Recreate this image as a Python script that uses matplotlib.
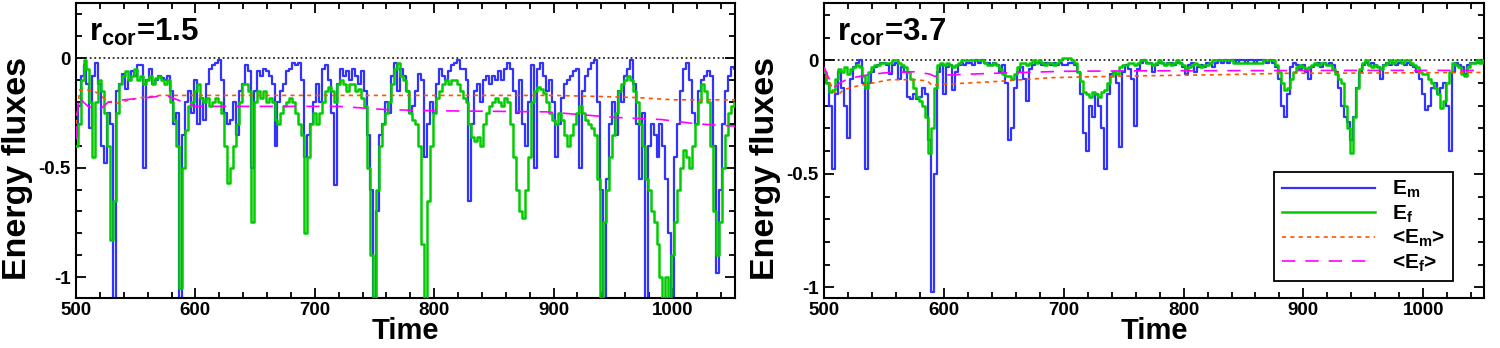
import matplotlib
matplotlib.use("Agg")
import matplotlib.pyplot as plt
from matplotlib.ticker import MultipleLocator, FuncFormatter
import numpy as np

# time grid of the sampled fluxes (step 2.5)
time = np.arange(500, 1052.5 + 0.1, 2.5)

# r_cor = 1.5
em_15 = [
    -0.36, -0.22, -0.08, -0.03, -0.12, -0.32, -0.08, -0.02, -0.12, -0.40,
    -0.48, -0.25, -0.30, -1.15, -0.15, -0.12, -0.07, -0.14, -0.10, -0.06,
    -0.08, -0.03, -0.03, -0.50, -0.10, -0.05, -0.12, -0.10, -0.08, -0.09,
    -0.10, -0.08, -0.15, -0.30, -0.25, -1.15, -0.35, -0.20, -0.15, -0.25,
    -0.10, -0.30, -0.18, -0.28, -0.12, -0.05, -0.03, -0.02, -0.01, -0.10,
    -0.25, -0.30, -0.28, -0.20, -0.35, -0.15, -0.12, -0.03, -0.06, -0.50,
    -0.15, -0.06, -0.08, -0.05, -0.06, -0.08, -0.12, -0.40, -0.20, -0.15,
    -0.12, -0.06, -0.05, -0.02, -0.03, -0.02, -0.10, -0.45, -0.35, -0.30,
    -0.20, -0.12, -0.20, -0.05, -0.03, -0.10, -0.25, -0.58, -0.12, -0.05,
    -0.08, -0.06, -0.10, -0.05, -0.08, -0.12, -0.06, -0.15, -0.35, -0.60,
    -1.15, -0.70, -0.35, -0.30, -0.20, -0.25, -0.08, -0.02, -0.15, -0.05,
    -0.08, -0.15, -0.25, -0.22, -0.15, -0.07, -0.10, -0.45, -0.30, -0.20,
    -0.25, -0.12, -0.05, -0.08, -0.10, -0.06, -0.03, -0.02, -0.01, -0.05,
    -0.05, -0.10, -0.65, -0.30, -0.15, -0.12, -0.20, -0.10, -0.08, -0.12,
    -0.08, -0.10, -0.06, -0.10, -0.05, -0.02, -0.05, -0.15, -0.25, -0.10,
    -0.30, -0.40, -0.20, -0.03, -0.50, -0.05, -0.02, -0.08, -0.15, -0.10,
    -0.20, -0.45, -0.30, -0.18, -0.12, -0.10, -0.08, -0.06, -0.05, -0.50,
    -0.15, -0.08, -0.05, -0.02, -0.01, -0.20, -0.60, -1.15, -0.55, -0.30,
    -0.20, -0.35, -0.15, -0.20, -0.08, -0.05, -0.01, -0.12, -0.30, -0.55,
    -0.25, -1.15, -0.40, -0.30, -0.35, -0.45, -0.30, -0.40, -0.55, -0.80,
    -1.10, -0.45, -0.30, -0.15, -0.05, -0.02, -0.10, -0.25, -0.30, -0.15,
    -0.10, -0.08, -0.06, -0.08, -0.40, -0.98, -0.60, -0.30, -0.15, -0.08,
    -0.04, -0.05,
]
ef_15 = [
    -0.40, -0.30, -0.10, -0.01, -0.05, -0.20, -0.45, -0.20, -0.10, -0.15,
    -0.25, -0.40, -0.83, -0.65, -0.25, -0.12, -0.08, -0.06, -0.10, -0.08,
    -0.05, -0.10, -0.08, -0.12, -0.10, -0.08, -0.12, -0.09, -0.08, -0.10,
    -0.12, -0.10, -0.20, -0.28, -0.40, -1.05, -0.50, -0.33, -0.22, -0.20,
    -0.15, -0.12, -0.18, -0.20, -0.18, -0.22, -0.20, -0.18, -0.20, -0.25,
    -0.40, -0.57, -0.50, -0.40, -0.30, -0.20, -0.12, -0.12, -0.15, -0.75,
    -0.20, -0.15, -0.18, -0.15, -0.20, -0.18, -0.20, -0.28, -0.30, -0.25,
    -0.22, -0.20, -0.18, -0.20, -0.25, -0.30, -0.35, -0.80, -0.45, -0.30,
    -0.25, -0.30, -0.25, -0.20, -0.15, -0.13, -0.15, -0.20, -0.12, -0.10,
    -0.12, -0.15, -0.12, -0.12, -0.15, -0.14, -0.18, -0.22, -0.50, -0.90,
    -1.10, -0.60, -0.40, -0.30, -0.25, -0.20, -0.12, -0.05, -0.02, -0.08,
    -0.10, -0.15, -0.25, -0.28, -0.30, -0.40, -0.85, -1.10, -0.65, -0.40,
    -0.25, -0.18, -0.15, -0.12, -0.10, -0.12, -0.10, -0.10, -0.12, -0.15,
    -0.18, -0.20, -0.30, -0.36, -0.38, -0.36, -0.40, -0.30, -0.25, -0.22,
    -0.20, -0.18, -0.20, -0.22, -0.18, -0.20, -0.30, -0.45, -0.60, -0.70,
    -0.73, -0.60, -0.45, -0.20, -0.15, -0.13, -0.14, -0.16, -0.20, -0.25,
    -0.28, -0.30, -0.25, -0.28, -0.35, -0.40, -0.35, -0.30, -0.25, -0.22,
    -0.25, -0.28, -0.30, -0.32, -0.35, -0.55, -1.10, -0.75, -0.60, -0.45,
    -0.35, -0.25, -0.15, -0.12, -0.10, -0.08, -0.10, -0.15, -0.20, -0.30,
    -0.40, -0.55, -0.60, -0.70, -0.75, -0.85, -1.00, -1.10, -1.00, -1.10,
    -0.90, -0.75, -0.60, -0.50, -0.42, -0.45, -0.50, -0.40, -0.30, -0.20,
    -0.12, -0.15, -0.20, -0.40, -0.70, -0.90, -0.75, -0.50, -0.35, -0.25,
    -0.22, -0.20,
]
t_mean_m_15 = [500, 502, 503, 510, 515, 521, 526, 535, 545, 555, 570, 600, 700, 800, 900, 940, 970, 1000, 1052]
mean_m_15 = [-0.30, -0.20, -0.145, -0.145, -0.15, -0.17, -0.20, -0.205, -0.19, -0.18, -0.17, -0.17,
             -0.17, -0.17, -0.17, -0.175, -0.18, -0.19, -0.19]
t_mean_f_15 = [500, 501, 503, 506, 510, 515, 520, 527, 540, 560, 575, 590, 600, 720, 760, 800, 894, 950, 990, 1020, 1052]
mean_f_15 = [-0.37, -0.25, -0.175, -0.20, -0.22, -0.23, -0.235, -0.20, -0.19, -0.18, -0.17, -0.20,
             -0.22, -0.22, -0.235, -0.24, -0.245, -0.27, -0.28, -0.30, -0.31]

# r_cor = 3.7
em_37 = [
    -0.05, -0.10, -0.20, -0.48, -0.15, -0.05, -0.12, -0.20, -0.34, -0.08,
    -0.03, -0.01, 0.00, -0.10, -0.48, -0.10, -0.05, -0.03, -0.02, -0.01,
    -0.01, -0.02, -0.06, -0.02, -0.01, -0.08, -0.03, -0.05, -0.16, -0.17,
    -0.15, -0.17, -0.16, -0.12, -0.15, -0.35, -1.02, -0.50, -0.05, -0.02,
    -0.15, -0.03, -0.02, -0.13, -0.05, -0.02, -0.01, -0.02, -0.01, -0.01,
    -0.02, 0.00, -0.01, 0.00, -0.01, -0.01, -0.02, -0.01, -0.02, -0.05,
    -0.02, -0.10, -0.35, -0.30, -0.12, -0.05, -0.03, -0.08, -0.18, -0.04,
    -0.02, -0.01, -0.01, -0.02, -0.01, -0.01, -0.02, -0.01, -0.02, -0.01,
    -0.02, -0.02, -0.01, -0.01, -0.02, -0.05, -0.15, -0.32, -0.40, -0.20,
    -0.25, -0.15, -0.20, -0.30, -0.48, -0.15, -0.06, -0.05, -0.10, -0.38,
    -0.05, -0.02, -0.04, -0.08, -0.29, -0.04, -0.01, 0.00, -0.01, -0.01,
    -0.05, -0.02, -0.01, -0.01, -0.02, -0.01, -0.01, -0.02, -0.01, -0.01,
    -0.03, -0.06, -0.02, -0.01, -0.05, -0.03, -0.02, -0.03, -0.01, -0.01,
    -0.03, -0.01, 0.00, -0.01, 0.00, -0.01, 0.00, 0.00, -0.01, 0.00,
    0.00, -0.01, 0.00, 0.00, -0.01, 0.00, 0.00, 0.00, -0.01, 0.00,
    -0.01, -0.03, -0.08, -0.20, -0.25, -0.15, -0.03, -0.01, -0.02, -0.04,
    -0.02, -0.05, -0.08, -0.03, -0.02, -0.01, -0.03, -0.01, -0.02, -0.01,
    -0.02, -0.05, -0.12, -0.20, -0.25, -0.27, -0.35, -0.25, -0.12, -0.05,
    -0.02, -0.01, -0.02, -0.01, -0.02, -0.03, -0.08, -0.02, -0.01, -0.02,
    -0.01, -0.02, -0.01, -0.01, -0.02, -0.01, -0.02, -0.03, -0.05, -0.08,
    -0.15, -0.22, -0.20, -0.12, -0.10, -0.15, -0.12, -0.10, -0.20, -0.40,
    -0.05, -0.01, -0.02, -0.03, -0.06, -0.02, -0.01, -0.01, -0.01, 0.00,
    -0.01, -0.01,
]
ef_37 = [
    -0.05, -0.10, -0.14, -0.13, -0.08, -0.04, -0.05, -0.03, -0.06, -0.04,
    -0.03, -0.02, -0.03, -0.07, -0.12, -0.05, -0.03, -0.02, -0.02, -0.01,
    -0.01, -0.01, -0.01, 0.00, 0.00, -0.01, -0.02, -0.03, -0.05, -0.08,
    -0.12, -0.16, -0.18, -0.20, -0.25, -0.41, -0.30, -0.12, -0.02, -0.01,
    -0.02, -0.01, -0.02, -0.03, -0.02, -0.01, 0.00, 0.00, 0.00, 0.00,
    0.00, 0.00, 0.00, 0.00, -0.01, -0.02, -0.02, -0.01, -0.02, -0.04,
    -0.06, -0.07, -0.07, -0.08, -0.06, -0.03, -0.01, -0.01, -0.02, -0.01,
    0.00, -0.01, 0.00, -0.01, -0.02, -0.01, -0.01, -0.02, -0.01, 0.00,
    0.01, 0.01, 0.01, 0.00, -0.01, -0.05, -0.09, -0.14, -0.15, -0.16,
    -0.14, -0.15, -0.16, -0.14, -0.13, -0.10, -0.07, -0.05, -0.06, -0.03,
    -0.02, -0.02, -0.01, -0.01, -0.02, -0.01, 0.00, 0.00, -0.01, -0.01,
    -0.02, -0.01, 0.00, -0.01, -0.02, -0.01, -0.02, -0.01, 0.00, -0.01,
    -0.02, -0.04, -0.03, -0.02, -0.01, -0.02, -0.03, -0.02, -0.02, -0.01,
    0.00, 0.00, 0.00, 0.00, 0.00, 0.00, 0.00, -0.01, -0.01, -0.01,
    -0.01, -0.01, -0.01, -0.01, -0.01, -0.01, -0.01, 0.00, 0.00, 0.00,
    0.00, -0.02, -0.05, -0.10, -0.13, -0.12, -0.08, -0.05, -0.03, -0.02,
    -0.03, -0.04, -0.03, -0.02, -0.01, -0.02, -0.01, -0.01, -0.02, -0.02,
    -0.04, -0.06, -0.08, -0.10, -0.20, -0.30, -0.41, -0.25, -0.12, -0.04,
    -0.01, 0.00, -0.02, -0.03, -0.02, -0.03, -0.04, -0.02, -0.01, 0.00,
    -0.01, 0.00, 0.00, -0.01, 0.00, 0.00, -0.01, -0.02, -0.03, -0.05,
    -0.06, -0.06, -0.08, -0.10, -0.12, -0.15, -0.21, -0.18, -0.10, -0.05,
    -0.01, -0.02, -0.03, -0.06, -0.07, -0.03, -0.01, -0.01, 0.00, -0.01,
    0.00, 0.00,
]
t_mean_m_37 = [500, 502, 505, 508, 512, 516, 522, 530, 540, 555, 575, 586, 590, 600, 640, 690, 750, 830, 885, 940, 1052]
mean_m_37 = [-0.03, -0.07, -0.10, -0.14, -0.15, -0.13, -0.12, -0.11, -0.10, -0.085, -0.085, -0.09,
             -0.11, -0.105, -0.094, -0.076, -0.069, -0.063, -0.057, -0.056, -0.053]
t_mean_f_37 = [500, 503, 508, 513, 520, 535, 550, 575, 588, 592, 600, 640, 700, 760, 850, 950, 1052]
mean_f_37 = [-0.03, -0.07, -0.12, -0.10, -0.08, -0.065, -0.055, -0.05, -0.06, -0.07, -0.065,
             -0.057, -0.048, -0.046, -0.045, -0.044, -0.044]

plt.rcParams['font.family'] = ['Liberation Sans', 'DejaVu Sans']
plt.rcParams['font.weight'] = 'bold'
plt.rcParams['mathtext.fontset'] = 'custom'
plt.rcParams['mathtext.rm'] = 'Liberation Sans:bold'
plt.rcParams['mathtext.it'] = 'Liberation Sans:bold'
plt.rcParams['mathtext.bf'] = 'Liberation Sans:bold'
plt.rcParams['mathtext.default'] = 'rm'

blue = '#3333ff'
green = '#00cc00'
orange = '#ff5500'
magenta = '#ff00ff'

fig = plt.figure(figsize=(15, 3.48), dpi=100)
ax1 = fig.add_axes([0.0507, 0.1437, 0.4393, 0.8477])
ax2 = fig.add_axes([0.5495, 0.1437, 0.4400, 0.8477])


def yfmt(v, pos):
    if abs(v) < 1e-9:
        return '0'
    if abs(v - round(v)) < 1e-9:
        return '%d' % round(v)
    return '%g' % v


panels = [
    (ax1, em_15, ef_15, t_mean_m_15, mean_m_15, t_mean_f_15, mean_f_15, '1.5', (-1.095, 0.252), 1052),
    (ax2, em_37, ef_37, t_mean_m_37, mean_m_37, t_mean_f_37, mean_f_37, '3.7', (-1.047, 0.253), 1051),
]

for ax, em, ef, tm, mm, tf, mf, rc, ylim, xmax in panels:
    ax.axhline(0, color='black', ls=(0, (1.2, 1.8)), lw=1.1, zorder=1)
    ax.plot(time, em, color=blue, lw=1.6, drawstyle='steps-mid', label='E$_m$', zorder=2)
    ax.plot(time, ef, color=green, lw=1.8, drawstyle='steps-mid', label='E$_f$', zorder=3)
    ax.plot(tm, mm, color=orange, lw=1.2, ls=(0, (2.5, 2.5)), label='<E$_m$>', zorder=4)
    ax.plot(tf, mf, color=magenta, lw=1.2, ls=(0, (8, 6)), label='<E$_f$>', zorder=4)

    ax.set_xlim(500, xmax)
    ax.set_ylim(*ylim)
    ax.xaxis.set_major_locator(MultipleLocator(100))
    ax.xaxis.set_minor_locator(MultipleLocator(20))
    ax.yaxis.set_major_locator(MultipleLocator(0.5))
    ax.yaxis.set_minor_locator(MultipleLocator(0.1))
    ax.yaxis.set_major_formatter(FuncFormatter(yfmt))
    ax.tick_params(which='both', direction='in', top=True, right=True,
                   labelsize=13.5, width=1.3)
    ax.tick_params(which='major', length=7, pad=4)
    ax.tick_params(axis='x', which='major', pad=3)
    ax.tick_params(which='minor', length=4)
    for sp in ax.spines.values():
        sp.set_linewidth(1.5)

    ax.set_xlabel('Time', fontsize=21, fontweight='bold')
    ax.xaxis.set_label_coords(0.5, -0.064)
    ax.set_ylabel('Energy fluxes', fontsize=24.5, fontweight='bold')
    ax.yaxis.set_label_coords(-0.066, 0.44)

    ax.text(0.019, 0.872, 'r$_{cor}$=' + rc, transform=ax.transAxes,
            fontsize=22.5, fontweight='bold', va='baseline', ha='left')

leg = ax2.legend(loc='lower right', bbox_to_anchor=(0.952, 0.058),
                 fontsize=15, handlelength=4.5, handletextpad=0.8,
                 labelspacing=0.15, borderpad=0.35, borderaxespad=0,
                 fancybox=False, framealpha=1, edgecolor='black')
leg.get_frame().set_linewidth(1.3)

plt.savefig('out.png', dpi=100)
